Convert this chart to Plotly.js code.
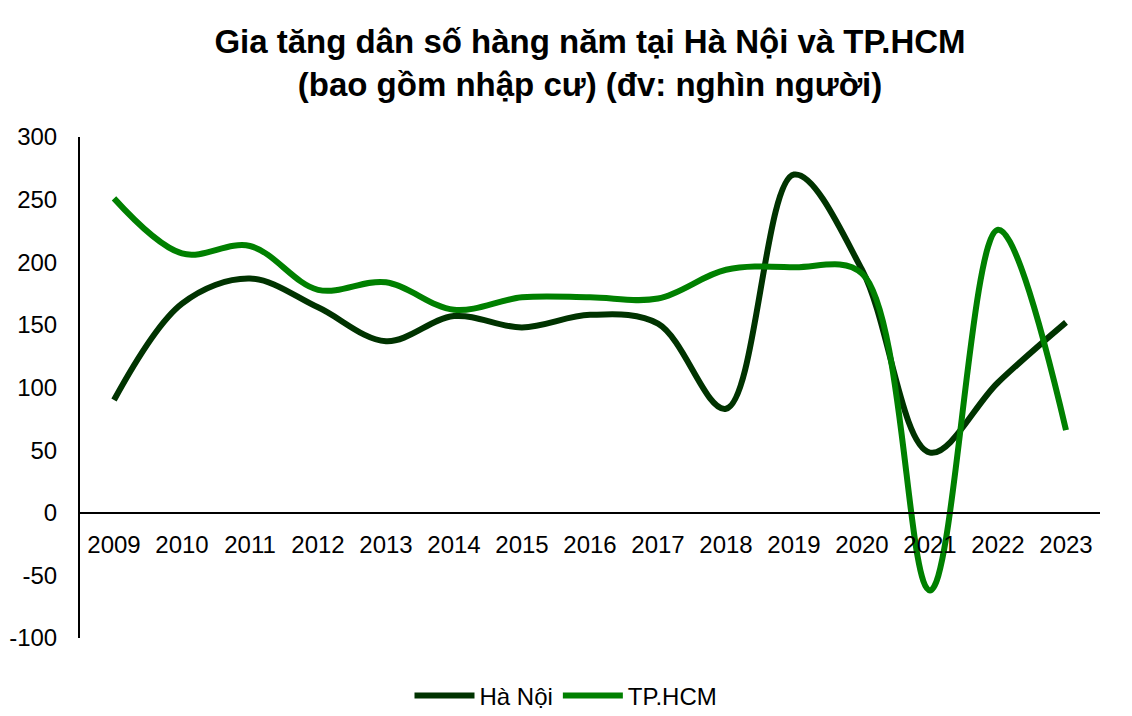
<!DOCTYPE html>
<html>
<head>
<meta charset="utf-8">
<script src="https://cdn.plot.ly/plotly-3.0.1.min.js"></script>
<style>html,body{margin:0;padding:0;background:#fff;}#chart{width:1132px;height:716px;}</style>
</head>
<body>
<div id="chart"></div>
<script>
var years = ["2009","2010","2011","2012","2013","2014","2015","2016","2017","2018","2019","2020","2021","2022","2023"];
var haNoi = [90, 167, 187, 164, 137, 157, 148, 158, 151, 83, 270, 194, 48, 104, 152];
var tpHCM = [251, 207, 213, 178, 184, 162, 172, 172, 171, 194, 196, 191, -62, 226, 66];
var yTicks = [-100, -50, 0, 50, 100, 150, 200, 250, 300];
var yTickLabels = ["-100", "-50", "0", "50", "100", "150", "200", "250", "300"];

var traces = [
  {x: years, y: haNoi, name: "Hà Nội", type: "scatter", mode: "lines",
   line: {color: "#003300", width: 6, shape: "spline", smoothing: 1}},
  {x: years, y: tpHCM, name: "TP.HCM", type: "scatter", mode: "lines",
   line: {color: "#008000", width: 6, shape: "spline", smoothing: 1}}
];

var layout = {
  width: 1132, height: 716,
  paper_bgcolor: "#fff", plot_bgcolor: "#fff",
  margin: {l: 80, r: 32, t: 137, b: 78},
  font: {family: "Liberation Sans, Arial, sans-serif", size: 24, color: "#000"},
  title: {text: "<b>Gia tăng dân số hàng năm tại Hà Nội và TP.HCM<br>(bao gồm nhập cư) (đv: nghìn người)</b>",
          font: {size: 33, color: "#000", family: "Liberation Sans, Arial, sans-serif"},
          x: 0.5, xref: "paper", y: 0.926, yref: "container", yanchor: "middle"},
  xaxis: {type: "category", range: [-0.5, 14.5], anchor: "free", position: 0.25, showline: true, linecolor: "#000", linewidth: 2,
          showgrid: false, zeroline: false, ticks: "", ticklabelstandoff: 10, tickangle: 0, automargin: false,
          tickfont: {size: 24, color: "#000"}},
  yaxis: {range: [-100, 300], tickvals: yTicks, ticktext: yTickLabels, showline: true, linecolor: "#000", linewidth: 2,
          showgrid: false, zeroline: false, ticks: "", ticklabelstandoff: 16, automargin: false,
          tickfont: {size: 24, color: "#000"}},
  showlegend: true,
  legend: {orientation: "h", x: 0.5, xref: "container", xanchor: "center", y: 0.028, yref: "container", yanchor: "middle",
           font: {size: 24, color: "#000"}, itemwidth: 60}
};

Plotly.newPlot("chart", traces, layout, {displayModeBar: false, staticPlot: true});
</script>
</body>
</html>
